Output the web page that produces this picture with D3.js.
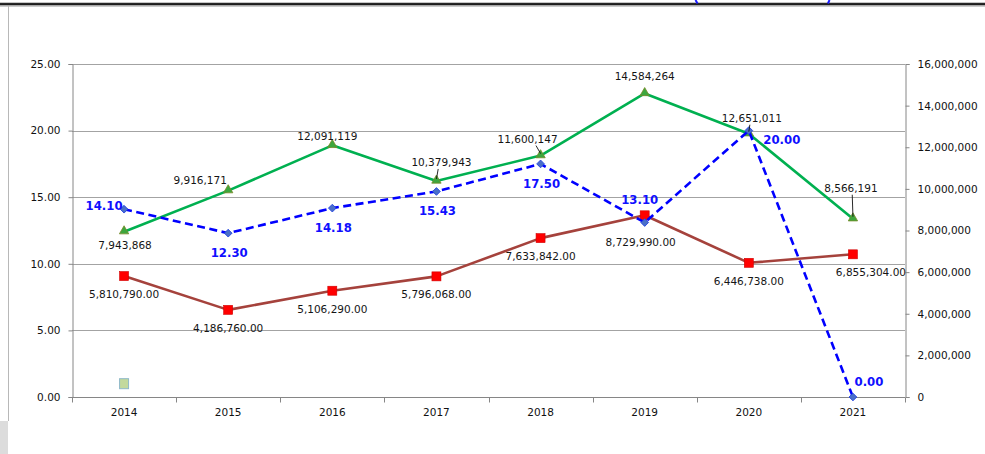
<!DOCTYPE html>
<html>
<head>
<meta charset="utf-8">
<script src="https://cdn.jsdelivr.net/npm/d3@7"></script>
<style>
  html, body { margin: 0; padding: 0; background: #fff; }
  svg { display: block; }
</style>
</head>
<body>
<svg id="chart" width="985" height="454"></svg>
<script>
// ---------------- data ----------------
const years = ["2014", "2015", "2016", "2017", "2018", "2019", "2020", "2021"];
const rateValues = [14.10, 12.30, 14.18, 15.43, 17.50, 13.10, 20.00, 0.00];          // left axis (blue dashed)
const greenValues = [7943868, 9916171, 12091119, 10379943, 11600147, 14584264, 12651011, 8566191]; // right axis
const redValues = [5810790, 4186760, 5106290, 5796068, 7633842, 8729990, 6446738, 6855304];       // right axis
const extraValues = [1, null, null, null, null, null, null, null];                  // left axis stray marker
const leftTicks = [0, 5, 10, 15, 20, 25];
const rightTicks = [0, 2000000, 4000000, 6000000, 8000000, 10000000, 12000000, 14000000, 16000000];

// ---------------- layout (label placement offsets, not data) ----------------
const rateLabelOff  = [[-20, -4], [1, 19.5], [1, 19.5], [1, 19], [1, 20], [-5, -23], [33, 9], [16, -16]];
const greenLabelOff = [[1, 13], [-28, -11], [-5, -9], [5, -19], [-13, -17], [0, -17], [3, -16], [-2, -31]];
const greenLeader   = [false, false, false, true, true, false, true, true];
const redLabelOff   = [[0, 18], [0, 18], [0, 18], [0, 18], [0, 18], [-4, 27], [0, 18], [18, 18]];

const svg = d3.select("#chart");
const L = 72, R = 905, T = 64, B = 397;

const x = d3.scaleBand().domain(years).range([L, R]).paddingInner(0).paddingOuter(0);
const cx = d => x(d) + x.bandwidth() / 2;
const yL = d3.scaleLinear().domain([0, 25]).range([B, T]);
const yR = d3.scaleLinear().domain([0, 16000000]).range([B, T]);

// frame decorations
svg.append("rect").attr("x", 0).attr("y", 3).attr("width", 985).attr("height", 2.2).attr("fill", "#1e1e1e");
svg.append("line").attr("x1", 0).attr("x2", 985).attr("y1", 5.8).attr("y2", 5.8).attr("stroke", "#9a9a9a").attr("stroke-width", 1.2);
svg.append("line").attr("x1", 0).attr("x2", 985).attr("y1", 2.6).attr("y2", 2.6).attr("stroke", "#b0b0b0").attr("stroke-width", 0.8);
svg.append("path").attr("d", "M695.5,0 L697.5,3.5").attr("stroke", "#1a1aff").attr("stroke-width", 2).attr("fill", "none");
svg.append("path").attr("d", "M829.5,0 L828,3.5").attr("stroke", "#1a1aff").attr("stroke-width", 2).attr("fill", "none");
svg.append("line").attr("x1", 8.5).attr("x2", 8.5).attr("y1", 6).attr("y2", 421).attr("stroke", "#b8b8b8").attr("stroke-width", 1);
svg.append("rect").attr("x", 0).attr("y", 421).attr("width", 8).attr("height", 33).attr("fill", "#dcdcdc");

// gridlines
svg.append("g").selectAll("line").data(leftTicks.filter(d => d > 0)).join("line")
  .attr("x1", L).attr("x2", R)
  .attr("y1", d => Math.round(yL(d)) + 0.5).attr("y2", d => Math.round(yL(d)) + 0.5)
  .attr("stroke", "#a3a3a3").attr("stroke-width", 1);

const axisFont = "'DejaVu Sans', Verdana, sans-serif";

// left axis
const gL = svg.append("g").attr("transform", `translate(${L + 0.5},0)`)
  .call(d3.axisLeft(yL).tickValues(leftTicks).tickFormat(d3.format(".2f")).tickSize(4).tickPadding(8));
// right axis
const gR = svg.append("g").attr("transform", `translate(${R + 0.5},0)`)
  .call(d3.axisRight(yR).tickValues(rightTicks).tickFormat(d3.format(",")).tickSize(4).tickPadding(8));
// bottom axis (labels at category centres, ticks at boundaries)
const gB = svg.append("g").attr("transform", `translate(0,${B + 0.5})`)
  .call(d3.axisBottom(x).tickSize(0).tickPadding(11));
gB.append("g").selectAll("line").data(years.concat(["end"])).join("line")
  .attr("x1", d => Math.round(d === "end" ? R : x(d)) + 0.5)
  .attr("x2", d => Math.round(d === "end" ? R : x(d)) + 0.5)
  .attr("y1", 0).attr("y2", 5).attr("stroke", "#868686");

[gL, gR, gB].forEach(g => {
  g.select(".domain").attr("stroke", "#868686").attr("stroke-width", 1);
  g.selectAll(".tick line").attr("stroke", "#868686");
  g.selectAll("text").attr("font-family", axisFont).attr("font-size", "10.5px").attr("fill", "#111");
});
gB.select(".domain").attr("d", `M${L},0H${R}`);

// lines
const lineR = d3.line().x((d, i) => cx(years[i])).y(d => yR(d));
const lineL = d3.line().x((d, i) => cx(years[i])).y(d => yL(d));

svg.append("path").datum(redValues).attr("d", lineR)
  .attr("fill", "none").attr("stroke", "#A5423C").attr("stroke-width", 2.6).attr("stroke-linejoin", "round");
svg.append("path").datum(greenValues).attr("d", lineR)
  .attr("fill", "none").attr("stroke", "#00B050").attr("stroke-width", 2.6).attr("stroke-linejoin", "round");

// red markers
svg.append("g").selectAll("rect").data(redValues).join("rect")
  .attr("x", (d, i) => cx(years[i]) - 4.5).attr("y", d => yR(d) - 4.5)
  .attr("width", 9).attr("height", 9).attr("fill", "#FF0000").attr("stroke", "#D00000").attr("stroke-width", 0.6);
// green markers
svg.append("g").selectAll("path").data(greenValues).join("path")
  .attr("d", d3.symbol().type(d3.symbolTriangle).size(38))
  .attr("transform", (d, i) => `translate(${cx(years[i])},${yR(d) - 0.5})`)
  .attr("fill", "#3DA63D").attr("stroke", "#7A8A2A").attr("stroke-width", 0.8);

// blue dashed line + diamonds
svg.append("path").datum(rateValues).attr("d", lineL)
  .attr("fill", "none").attr("stroke", "#0000FF").attr("stroke-width", 2.6)
  .attr("stroke-dasharray", "8,4.5");
svg.append("g").selectAll("path").data(rateValues).join("path")
  .attr("d", d3.symbol().type(d3.symbolSquare).size(30))
  .attr("transform", (d, i) => `translate(${cx(years[i])},${yL(d)}) rotate(45)`)
  .attr("fill", "#4A6FC8").attr("stroke", "#1F3FE0").attr("stroke-width", 0.8);

// stray marker
svg.append("g").selectAll("rect").data(extraValues.map((v, i) => [v, i]).filter(p => p[0] != null)).join("rect")
  .attr("x", p => cx(years[p[1]]) - 4.5).attr("y", p => yL(p[0]) - 5)
  .attr("width", 9).attr("height", 10)
  .attr("fill", "#C3D99C").attr("stroke", "#8FB9C9").attr("stroke-width", 1);

// leader lines
svg.append("g").selectAll("line").data(greenValues.map((v, i) => [v, i]).filter(p => greenLeader[p[1]])).join("line")
  .attr("x1", p => cx(years[p[1]]) + greenLabelOff[p[1]][0] * 0.35)
  .attr("y1", p => yR(p[0]) + greenLabelOff[p[1]][1] + 7)
  .attr("x2", p => cx(years[p[1]]))
  .attr("y2", p => yR(p[0]) - 2)
  .attr("stroke", "#111").attr("stroke-width", 0.9);

// labels
const labelFont = "'DejaVu Sans', Verdana, sans-serif";
svg.append("g").selectAll("text").data(greenValues).join("text")
  .attr("x", (d, i) => cx(years[i]) + greenLabelOff[i][0])
  .attr("y", (d, i) => yR(d) + greenLabelOff[i][1])
  .attr("text-anchor", "middle").attr("dominant-baseline", "central")
  .attr("font-family", labelFont).attr("font-size", "10.5px").attr("fill", "#151515")
  .text(d => d3.format(",")(d));

svg.append("g").selectAll("text").data(redValues).join("text")
  .attr("x", (d, i) => cx(years[i]) + redLabelOff[i][0])
  .attr("y", (d, i) => yR(d) + redLabelOff[i][1])
  .attr("text-anchor", "middle").attr("dominant-baseline", "central")
  .attr("font-family", labelFont).attr("font-size", "10.5px").attr("fill", "#151515")
  .text(d => d3.format(",.2f")(d));

svg.append("g").selectAll("text").data(rateValues).join("text")
  .attr("x", (d, i) => cx(years[i]) + rateLabelOff[i][0])
  .attr("y", (d, i) => yL(d) + rateLabelOff[i][1])
  .attr("text-anchor", "middle").attr("dominant-baseline", "central")
  .attr("font-family", "'DejaVu Sans Condensed', 'DejaVu Sans', sans-serif").attr("font-weight", "bold")
  .attr("font-size", "13px").attr("fill", "#0F0FFF")
  .text(d => d3.format(".2f")(d));
</script>
</body>
</html>
